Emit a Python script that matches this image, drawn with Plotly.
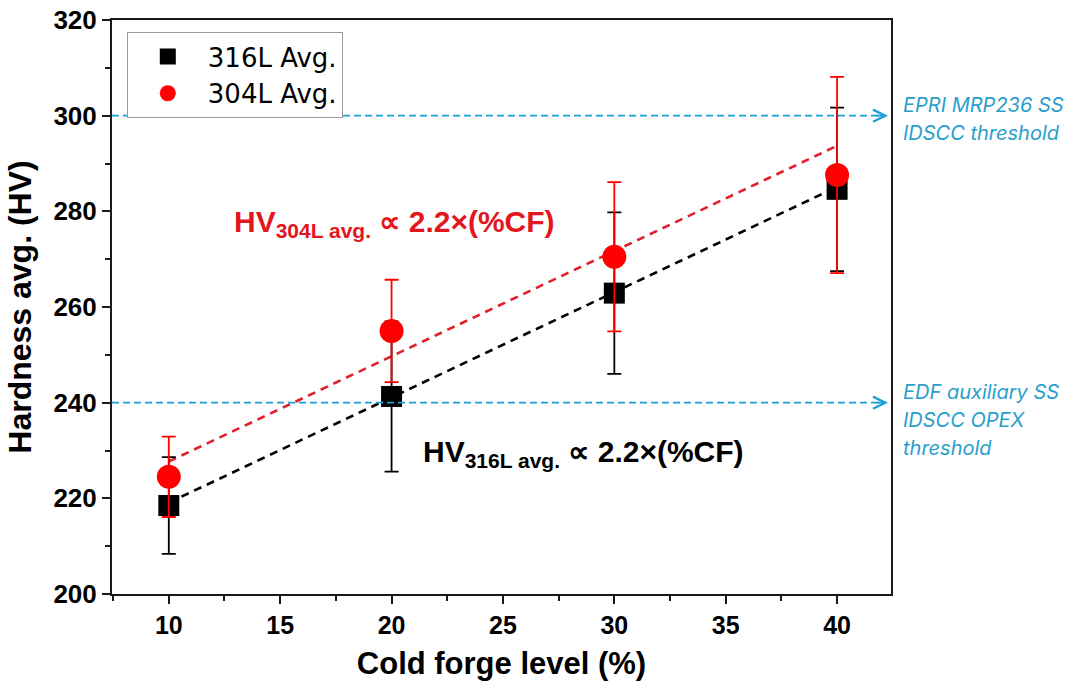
import numpy as np
import plotly.graph_objects as go

# Cold forge levels (%)
cold_forge = [10, 20, 30, 40]

# Average hardness (HV) and error-bar half widths
hv_316l = [218.5, 241.3, 262.9, 284.6]
err_316l = [10.1, 15.7, 16.9, 17.1]
hv_304l = [224.5, 255.0, 270.5, 287.6]
err_304l = [8.4, 10.7, 15.6, 20.5]

# Linear trend lines: HV = slope * CF + intercept
fit_names = ["316L", "304L"]
fit_slope = [2.2, 2.2]
fit_intercept = [197.1, 205.7]

# IDSCC hardness thresholds (HV) and their labels
threshold_hv = [300, 240]
threshold_labels = [
    ["EPRI MRP236 SS", "IDSCC threshold"],
    ["EDF auxiliary SS", "IDSCC OPEX", "threshold"],
]

x_ticks = [10, 15, 20, 25, 30, 35, 40]
y_ticks = [200, 220, 240, 260, 280, 300, 320]
x_range = [7.45, 42.42]
y_range = [200, 320]

BLACK = "#000000"
RED = "#FF0000"
RED_TEXT = "#E3161E"
RED_FIT = "#E0202A"
BLUE = "#1A9FD6"
BLUE_TEXT = "#2A9FCB"

fig = go.Figure()

# Trend lines (drawn first so markers sit on top)
fit_colors = [BLACK, RED_FIT]
cf_line = np.array([cold_forge[0], cold_forge[-1]], dtype=float)
for name, m, b, c in zip(fit_names, fit_slope, fit_intercept, fit_colors):
    fig.add_trace(go.Scatter(
        x=cf_line, y=m * cf_line + b, mode="lines",
        line=dict(color=c, width=2.6, dash="8px,6px"),
        showlegend=False, hoverinfo="skip",
    ))

fig.add_trace(go.Scatter(
    x=cold_forge, y=hv_316l, mode="markers", name="316L Avg.",
    marker=dict(symbol="square", size=21, color=BLACK),
    error_y=dict(type="data", array=err_316l, color=BLACK, thickness=1.8, width=7),
))
fig.add_trace(go.Scatter(
    x=cold_forge, y=hv_304l, mode="markers", name="304L Avg.",
    marker=dict(symbol="circle", size=24, color=RED),
    error_y=dict(type="data", array=err_304l, color=RED, thickness=1.8, width=7),
))

# Threshold reference lines with arrowheads at the right frame
for hv in threshold_hv:
    fig.add_shape(type="line", xref="x", yref="y",
                  x0=x_range[0], x1=42.2, y0=hv, y1=hv,
                  line=dict(color=BLUE, width=1.8, dash="7px,4px"))
    fig.add_annotation(x=42.28, y=hv, ax=41.7, ay=hv, xref="x", yref="y",
                       axref="x", ayref="y", text="", showarrow=True,
                       arrowhead=5, arrowsize=1.5, arrowwidth=1.6,
                       arrowcolor=BLUE, standoff=0)

label_shifts = [11, -17, -45]
for hv, lines in zip(threshold_hv, threshold_labels):
    for line, dy in zip(lines, label_shifts):
        fig.add_annotation(x=1.0125, y=hv, xref="paper", yref="y",
                           yshift=dy, xanchor="left", yanchor="middle",
                           text=line, showarrow=False,
                           font=dict(family="Inter, Noto Sans, sans-serif",
                                     size=20, color=BLUE_TEXT, style="italic"))

# Trend equations
fig.add_annotation(x=12.85, y=277.5, xref="x", yref="y", xanchor="left",
                   yanchor="middle", showarrow=False,
                   text="HV<sub>304L avg.</sub> ∝ 2.2×(%CF)",
                   font=dict(family="Liberation Sans, Arial, sans-serif",
                             size=30, color=RED_TEXT, weight="bold"))
fig.add_annotation(x=21.3, y=229.3, xref="x", yref="y", xanchor="left",
                   yanchor="middle", showarrow=False,
                   text="HV<sub>316L avg.</sub> ∝ 2.2×(%CF)",
                   font=dict(family="Liberation Sans, Arial, sans-serif",
                             size=30, color=BLACK, weight="bold"))

axis_common = dict(
    showgrid=False, zeroline=False, showline=True, mirror=True,
    linecolor="#1a1a1a", linewidth=2, ticks="outside", tickcolor="#1a1a1a",
    tickwidth=1.5, ticklen=8, automargin=False,
)

fig.update_xaxes(
    range=x_range, tickvals=x_ticks,
    minor=dict(dtick=2.5, tick0=7.5, ticks="outside", ticklen=5,
               tickwidth=1.5, tickcolor="#1a1a1a"),
    tickfont=dict(family="Liberation Sans, Arial, sans-serif",
                  size=25, color=BLACK, weight="bold"),
    title=dict(text="Cold forge level (%)", standoff=14,
               font=dict(family="Liberation Sans, Arial, sans-serif", size=31,
                         color=BLACK, weight="bold")),
    **axis_common,
)
fig.update_yaxes(
    range=y_range, tickvals=y_ticks,
    minor=dict(dtick=10, tick0=200, ticks="outside", ticklen=5,
               tickwidth=1.5, tickcolor="#1a1a1a"),
    tickfont=dict(family="Liberation Sans, Arial, sans-serif", size=26,
                  color=BLACK, weight="bold"),
    title=dict(text="Hardness avg. (HV)", standoff=12,
               font=dict(family="Liberation Sans, Arial, sans-serif", size=32,
                         color=BLACK, weight="bold")),
    **axis_common,
)

fig.update_layout(
    width=1079, height=692,
    margin=dict(l=112, r=188, t=20, b=98),
    paper_bgcolor="white", plot_bgcolor="white",
    legend=dict(x=0.019, y=0.979, xanchor="left", yanchor="top",
                bgcolor="white", bordercolor="#9a9a9a", borderwidth=1,
                font=dict(family="DejaVu Sans, sans-serif", size=26,
                          color=BLACK),
                itemwidth=70, tracegroupgap=0),
    showlegend=True,
)

fig.write_html("out.html")
